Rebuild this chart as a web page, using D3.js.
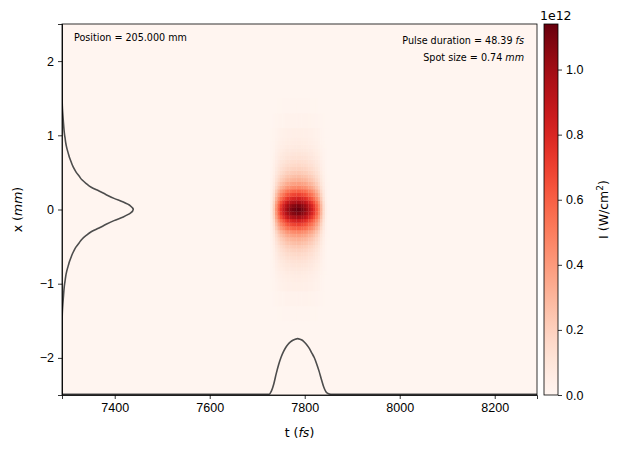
<!DOCTYPE html>
<html>
<head>
<meta charset="utf-8">
<script src="https://cdn.jsdelivr.net/npm/d3@7/dist/d3.min.js"></script>
<style>
  body { margin: 0; background: #fff; }
  svg { font-family: "DejaVu Sans", sans-serif; }
  .axis text { font-size: 12.5px; fill: #000; }
  .axis path, .axis line { stroke: #000; stroke-width: 0.8px; }
</style>
</head>
<body>
<div id="chart"></div>
<script>
// time samples (fs) and normalised temporal lineout
var tSamples = [7289, 7700, 7720, 7725, 7730, 7735, 7740, 7745, 7750, 7755, 7760, 7765, 7770, 7775,
  7780, 7785, 7790, 7795, 7800, 7805, 7810, 7815, 7820, 7825, 7830, 7835, 7840, 7845, 7850, 7855, 7860, 7900, 8289];
var tProfile = [0, 0, 0, 0, 0.06, 0.19, 0.37, 0.53, 0.66, 0.76, 0.84, 0.90, 0.94, 0.97,
  0.99, 1.0, 0.99, 0.97, 0.93, 0.88, 0.82, 0.74, 0.66, 0.55, 0.42, 0.27, 0.13, 0.04, 0.01, 0, 0, 0, 0];

// transverse samples (mm) and normalised spatial lineout
var xSamples = [-2.5, -2.0, -1.6, -1.4, -1.2, -1.0, -0.95, -0.9, -0.85, -0.8, -0.75, -0.7, -0.65, -0.6,
  -0.55, -0.5, -0.45, -0.4, -0.35, -0.3, -0.25, -0.2, -0.15, -0.1, -0.05, 0, 0.05, 0.1, 0.15, 0.2,
  0.25, 0.3, 0.35, 0.4, 0.45, 0.5, 0.55, 0.6, 0.65, 0.7, 0.75, 0.8, 0.85, 0.9, 0.95, 1.0, 1.2, 1.4, 1.6, 2.0, 2.5];
var xProfile = [0, 0, 0, 0.004, 0.018, 0.037, 0.045, 0.052, 0.062, 0.075, 0.09, 0.105, 0.125, 0.145,
  0.17, 0.2, 0.24, 0.28, 0.34, 0.41, 0.52, 0.62, 0.73, 0.86, 0.96, 1.0, 0.96, 0.86, 0.73, 0.62,
  0.52, 0.41, 0.34, 0.28, 0.24, 0.2, 0.17, 0.145, 0.125, 0.105, 0.09, 0.075, 0.062, 0.052, 0.045, 0.037, 0.018, 0.004, 0, 0, 0];

var peakIntensity = 1.14e12;
var tTicks = [7400, 7600, 7800, 8000, 8200];
var xTicks = [-2, -1, 0, 1, 2];
var cbarTicks = [0, 0.2e12, 0.4e12, 0.6e12, 0.8e12, 1.0e12];

var W = 624, H = 450;
var margin = {top: 24, left: 62},
    width = 475, height = 371;

var svg = d3.select("#chart").append("svg").attr("width", W).attr("height", H);

var x = d3.scaleLinear().domain([7289, 8289]).range([0, width]);
var y = d3.scaleLinear().domain([-2.5, 2.5]).range([height, 0]);
var color = d3.scaleSequential(d3.interpolateReds).domain([0, peakIntensity]);

var g = svg.append("g").attr("transform", "translate(" + margin.left + "," + margin.top + ")");

svg.append("defs").append("clipPath").attr("id", "clip")
  .append("rect").attr("width", width).attr("height", height);

// background = zero intensity
g.append("rect").attr("width", width).attr("height", height).attr("fill", color(0));

function edges(arr) {
  return arr.map(function(v, i) {
    var lo = i === 0 ? v : (arr[i - 1] + v) / 2;
    var hi = i === arr.length - 1 ? v : (v + arr[i + 1]) / 2;
    return [lo, hi];
  });
}
var tEdges = edges(tSamples), xEdges = edges(xSamples);

var cells = [];
tSamples.forEach(function(t, i) {
  xSamples.forEach(function(xv, j) {
    var val = peakIntensity * tProfile[i] * xProfile[j];
    if (val > 0) cells.push({i: i, j: j, v: val});
  });
});

g.append("g").attr("clip-path", "url(#clip)")
  .selectAll("rect").data(cells).enter().append("rect")
  .attr("x", function(d) { return x(tEdges[d.i][0]); })
  .attr("width", function(d) { return x(tEdges[d.i][1]) - x(tEdges[d.i][0]) + 0.3; })
  .attr("y", function(d) { return y(xEdges[d.j][1]); })
  .attr("height", function(d) { return y(xEdges[d.j][0]) - y(xEdges[d.j][1]) + 0.3; })
  .attr("fill", function(d) { return color(d.v); });

// lineouts
var lineX = d3.scaleLinear().domain([0, 1]).range([x(7289), x(7439)]);
var lineY = d3.scaleLinear().domain([0, 1]).range([y(-2.49), y(-1.74)]);

g.append("path")
  .datum(xSamples.map(function(v, i) { return [xProfile[i], v]; }))
  .attr("fill", "none").attr("stroke", "#4d4d4d").attr("stroke-width", 1.6)
  .attr("clip-path", "url(#clip)")
  .attr("d", d3.line().curve(d3.curveMonotoneY)
    .x(function(d) { return lineX(d[0]); })
    .y(function(d) { return y(d[1]); }));

g.append("path")
  .datum(tSamples.map(function(t, i) { return [t, tProfile[i]]; }))
  .attr("fill", "none").attr("stroke", "#4d4d4d").attr("stroke-width", 1.6)
  .attr("clip-path", "url(#clip)")
  .attr("d", d3.line().curve(d3.curveMonotoneX)
    .x(function(d) { return x(d[0]); })
    .y(function(d) { return lineY(d[1]); }));

// axes
g.append("g").attr("class", "axis")
  .attr("transform", "translate(0," + height + ")")
  .call(d3.axisBottom(x).tickValues(tTicks).tickSize(4).tickPadding(4).tickFormat(d3.format("d")));
g.append("g").attr("class", "axis")
  .call(d3.axisLeft(y).tickValues(xTicks).tickSize(4).tickPadding(4)
    .tickFormat(function(d) { return d < 0 ? "\u2212" + Math.abs(d) : d; }));
g.append("rect").attr("width", width).attr("height", height)
  .attr("fill", "none").attr("stroke", "#000").attr("stroke-width", 0.8);

// axis labels
var xl = svg.append("text").attr("x", margin.left + width / 2).attr("y", 437)
  .attr("text-anchor", "middle").attr("font-size", 12.5);
xl.append("tspan").text("t (");
xl.append("tspan").attr("font-style", "italic").text("fs");
xl.append("tspan").text(")");

var yl = svg.append("text").attr("transform", "translate(22," + (margin.top + height / 2) + ") rotate(-90)")
  .attr("text-anchor", "middle").attr("font-size", 12.5);
yl.append("tspan").text("x (");
yl.append("tspan").attr("font-style", "italic").text("mm");
yl.append("tspan").text(")");

// annotations
svg.append("text").attr("x", 74).attr("y", 41).attr("font-size", 9.6).text("Position = 205.000 mm");
var a1 = svg.append("text").attr("x", 524).attr("y", 44).attr("font-size", 9.6).attr("text-anchor", "end");
a1.append("tspan").text("Pulse duration = 48.39 ");
a1.append("tspan").attr("font-style", "italic").text("fs");
var a2 = svg.append("text").attr("x", 524).attr("y", 61).attr("font-size", 9.6).attr("text-anchor", "end");
a2.append("tspan").text("Spot size = 0.74 ");
a2.append("tspan").attr("font-style", "italic").text("mm");

// colorbar
var cbX = 544, cbW = 14;
var cy = d3.scaleLinear().domain([0, peakIntensity]).range([margin.top + height, margin.top]);
var grad = svg.select("defs").append("linearGradient").attr("id", "cbar")
  .attr("x1", 0).attr("y1", 1).attr("x2", 0).attr("y2", 0);
d3.range(0, 1.0001, 0.05).forEach(function(f) {
  grad.append("stop").attr("offset", f).attr("stop-color", color(f * peakIntensity));
});
svg.append("rect").attr("x", cbX).attr("y", margin.top).attr("width", cbW).attr("height", height)
  .attr("fill", "url(#cbar)").attr("stroke", "#000").attr("stroke-width", 0.8);
svg.append("g").attr("class", "axis")
  .attr("transform", "translate(" + (cbX + cbW) + ",0)")
  .call(d3.axisRight(cy).tickValues(cbarTicks).tickSize(4).tickPadding(4)
    .tickFormat(function(d) { return (d / 1e12).toFixed(1); }))
  .select(".domain").remove();
svg.append("text").attr("x", 540).attr("y", 20).attr("font-size", 12.5).text("1e12");

var cl = svg.append("text").attr("transform", "translate(608," + (margin.top + height / 2) + ") rotate(-90)")
  .attr("text-anchor", "middle").attr("font-size", 12.5);
cl.append("tspan").text("I (W/cm");
cl.append("tspan").attr("font-size", 9).attr("dy", -5).text("2");
cl.append("tspan").attr("dy", 5).text(")");
</script>
</body>
</html>
